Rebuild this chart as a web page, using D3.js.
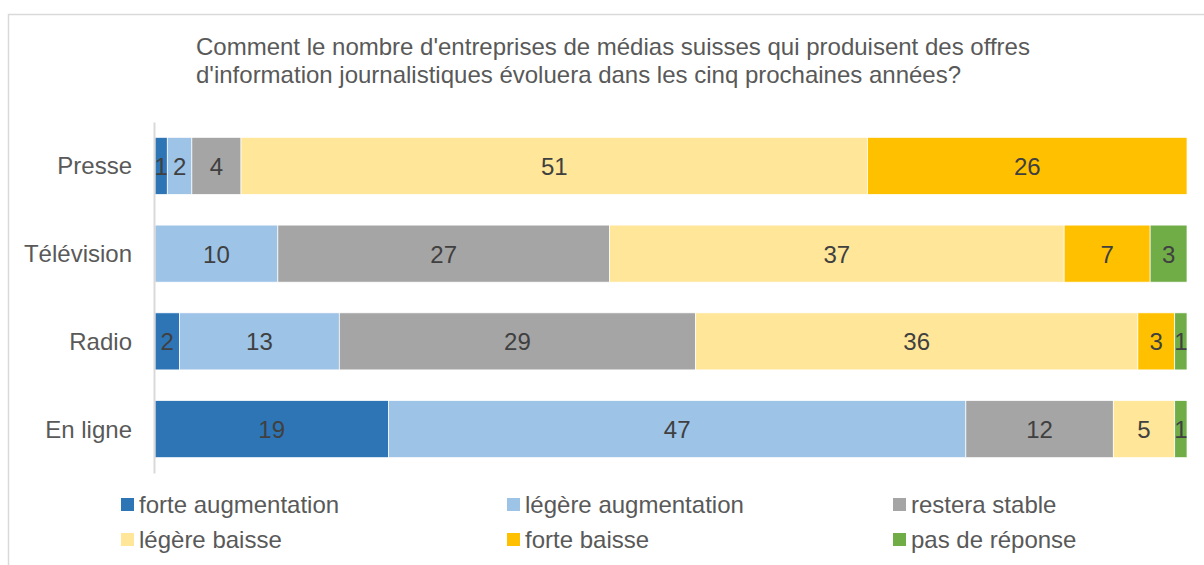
<!DOCTYPE html>
<html lang="fr">
<head>
  <meta charset="UTF-8">
  <title>Offres d'information journalistiques</title>
  <script src="https://cdn.jsdelivr.net/npm/d3@7/dist/d3.min.js"></script>
  <style>
  body{
    margin: 0;
    background: #fff;
  }
  .titre{
    font-family: 'Liberation Sans', Arial, sans-serif;
    font-size: 24px;
    fill: #595959;
  }
  .categorie{
    font-family: 'Liberation Sans', Arial, sans-serif;
    font-size: 24px;
    fill: #595959;
  }
  .cifras{
    font-family: 'Liberation Sans', Arial, sans-serif;
    font-size: 24px;
    fill: #404040;
  }
  .leyenda{
    font-family: 'Liberation Sans', Arial, sans-serif;
    font-size: 24px;
    fill: #595959;
  }
  </style>
</head>
<body>
  <div id="grafico"></div>

  <script>
    // datos
    var categorias = ["Presse", "Télévision", "Radio", "En ligne"];
    var series = ["forte augmentation", "légère augmentation", "restera stable", "légère baisse", "forte baisse", "pas de réponse"];
    var forteAugmentation  = [1, 0, 2, 19];
    var legereAugmentation = [2, 10, 13, 47];
    var resteraStable      = [4, 27, 29, 12];
    var legereBaisse       = [51, 37, 36, 5];
    var forteBaisse        = [26, 7, 3, 0];
    var pasDeReponse       = [0, 3, 1, 1];
    var titulo = ["Comment le nombre d'entreprises de médias suisses qui produisent des offres",
                  "d'information journalistiques évoluera dans les cinq prochaines années?"];

    var colores = ['#2E75B6', '#9DC3E6', '#A5A5A5', '#FFE699', '#FFC000', '#70AD47'];

    var w = 1204;
    var h = 565;

    var tabla = categorias.map(function(c, i){
      var fila = {categoria: c};
      fila[series[0]] = forteAugmentation[i];
      fila[series[1]] = legereAugmentation[i];
      fila[series[2]] = resteraStable[i];
      fila[series[3]] = legereBaisse[i];
      fila[series[4]] = forteBaisse[i];
      fila[series[5]] = pasDeReponse[i];
      return fila;
    });

    var apilado = d3.stack().keys(series)(tabla);
    var total = d3.max(tabla, function(d){
      return d3.sum(series, function(k){ return d[k]; });
    });

    var grafico = d3.select("#grafico")
      .append("svg")
      .attr("width", w)
      .attr("height", h);

    // marco
    grafico.append("rect")
      .attr("x", 8.5)
      .attr("y", 14.5)
      .attr("width", w)
      .attr("height", h)
      .attr("fill", "none")
      .attr("stroke", "#d9d9d9")
      .attr("stroke-width", 1.5);

    // titulo
    grafico.selectAll(".titre")
      .data(titulo)
      .enter()
      .append("text")
      .classed("titre", true)
      .attr("x", 196)
      .attr("y", function(d, i){ return 55 + i * 28; })
      .text(function(d){ return d; });

    // escalas
    var xScale = d3.scaleLinear()
      .domain([0, total])
      .range([155, 1187]);

    var yScale = d3.scaleBand()
      .domain(categorias)
      .range([122, 473])
      .paddingInner(0.35)
      .paddingOuter(0.175);

    // barras
    var capas = grafico.selectAll(".capa")
      .data(apilado)
      .enter()
      .append("g")
      .attr("class", "capa")
      .attr("fill", function(d, i){ return colores[i]; });

    capas.selectAll("rect")
      .data(function(d){ return d.filter(function(p){ return p[1] - p[0] > 0; }); })
      .enter()
      .append("rect")
      .attr("x", function(d){ return xScale(d[0]); })
      .attr("y", function(d){ return yScale(d.data.categoria); })
      .attr("width", function(d){ return xScale(d[1]) - xScale(d[0]); })
      .attr("height", yScale.bandwidth())
      .attr("stroke", "#fff")
      .attr("stroke-width", 0.7);

    // cifras
    capas.selectAll("text")
      .data(function(d){ return d.filter(function(p){ return p[1] - p[0] > 0; }); })
      .enter()
      .append("text")
      .classed("cifras", true)
      .attr("text-anchor", "middle")
      .attr("x", function(d){ return (xScale(d[0]) + xScale(d[1])) / 2; })
      .attr("y", function(d){ return yScale(d.data.categoria) + yScale.bandwidth() / 2 + 9; })
      .text(function(d){ return d[1] - d[0]; });

    // eje vertical
    var ejeY = d3.axisLeft(yScale).tickSize(0).tickPadding(22);
    var gEje = grafico.append("g")
      .attr("transform", "translate(154,0)")
      .call(ejeY);
    gEje.select(".domain")
      .attr("stroke", "#d9d9d9")
      .attr("stroke-width", 2);
    gEje.selectAll("text")
      .attr("class", "categorie")
      .attr("dy", null)
      .attr("y", 8.5)
      .attr("font-family", null)
      .attr("font-size", null)
      .attr("fill", null);

    // leyenda
    var columnas = [121, 507, 893];
    var leyenda = grafico.selectAll(".itemLeyenda")
      .data(series)
      .enter()
      .append("g")
      .attr("class", "itemLeyenda")
      .attr("transform", function(d, i){
        return "translate(" + columnas[i % 3] + "," + (504.5 + Math.floor(i / 3) * 35) + ")";
      });

    leyenda.append("rect")
      .attr("x", 0)
      .attr("y", -6.5)
      .attr("width", 13)
      .attr("height", 13)
      .attr("fill", function(d, i){ return colores[i]; });

    leyenda.append("text")
      .classed("leyenda", true)
      .attr("x", 18)
      .attr("y", 8)
      .text(function(d){ return d; });
  </script>
</body>
</html>
